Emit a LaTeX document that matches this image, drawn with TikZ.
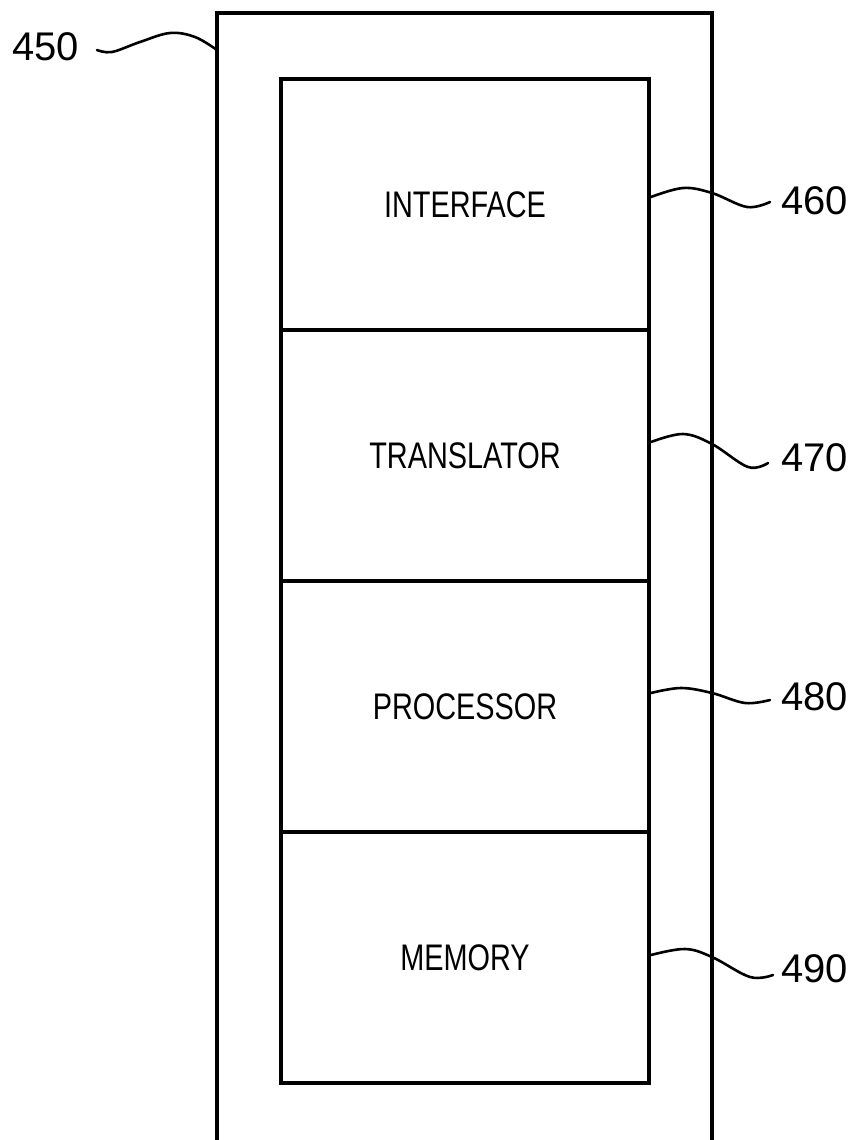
\documentclass[tikz,border=0pt]{standalone}
\usepackage{fontspec}
\setmainfont{Liberation Sans}
\begin{document}
\begin{tikzpicture}[x=1pt,y=-1pt,
  blk/.style={draw, line width=3.5pt, minimum width=368pt, minimum height=251pt, inner sep=0pt, font=\fontsize{37}{40}\selectfont},
  num/.style={anchor=west, inner sep=0pt, font=\fontsize{40}{44}\selectfont},
  lead/.style={line width=2.6pt, line cap=round}]
\useasboundingbox (0,0) rectangle (855,1140);
% outer housing (open at bottom)
\coordinate (obl) at (217,1140);
\coordinate (otl) at (217,13);
\coordinate (otr) at (712,13);
\coordinate (obr) at (712,1140);
\draw[line width=3.8pt, line join=miter] (obl) -- (otl) -- (otr) -- (obr);
% inner blocks
\node[blk] (b460) at (465,204.5) {\scalebox{0.78}[1]{INTERFACE}};
\node[blk] (b470) at (465,455.5) {\scalebox{0.78}[1]{TRANSLATOR}};
\node[blk] (b480) at (465,706.5) {\scalebox{0.78}[1]{PROCESSOR}};
\node[blk] (b490) at (465,957.5) {\scalebox{0.78}[1]{MEMORY}};
% reference numerals
\node[num, anchor=east] (n450) at (79,47) {450};
\node[num] (n460) at (781,201) {460};
\node[num] (n470) at (781,458) {470};
\node[num] (n480) at (781,697) {480};
\node[num] (n490) at (781,969) {490};
% lead lines
\coordinate (s450) at (97,50);
\coordinate (e450) at (217,50);
\draw[lead] plot[smooth, tension=0.6] coordinates {(s450) (112,52) (140,42) (170,33) (195,37) (e450)};
\coordinate (s460) at (651,197);
\coordinate (e460) at (770,202);
\draw[lead] plot[smooth, tension=0.6] coordinates {(s460) (683,188) (712,193) (747,207) (e460)};
\coordinate (s470) at (651,442);
\coordinate (e470) at (768,463);
\draw[lead] plot[smooth, tension=0.6] coordinates {(s470) (683,434) (712,444) (748,467) (e470)};
\coordinate (s480) at (651,693);
\coordinate (e480) at (770,700);
\draw[lead] plot[smooth, tension=0.6] coordinates {(s480) (681,688) (712,693) (745,703) (e480)};
\coordinate (s490) at (651,955);
\coordinate (e490) at (773,975);
\draw[lead] plot[smooth, tension=0.6] coordinates {(s490) (685,949) (712,957) (750,977) (e490)};
\end{tikzpicture}
\end{document}
